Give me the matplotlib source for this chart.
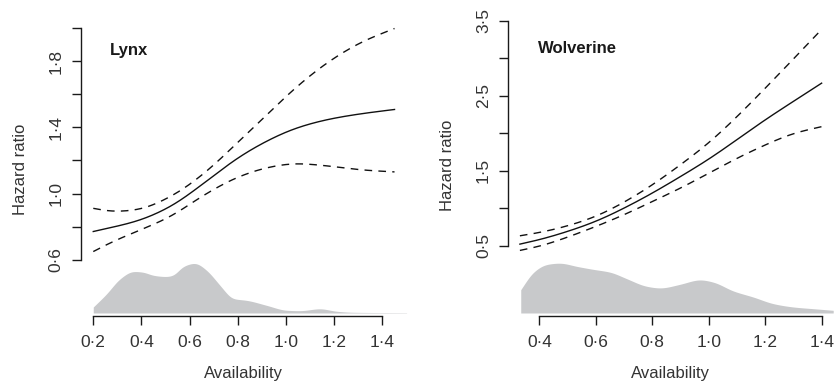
import numpy as np
import matplotlib.pyplot as plt
from matplotlib.ticker import FuncFormatter

plt.rcParams['font.family'] = ['Liberation Sans', 'DejaVu Sans']

# Lynx: smooth hazard ratio with confidence band
lynx_x = [0.2, 0.28, 0.38, 0.52, 0.66, 0.8, 0.93, 1.04, 1.18, 1.32, 1.45]
lynx_fit = [0.771, 0.797, 0.833, 0.921, 1.064, 1.216, 1.325, 1.395, 1.450, 1.484, 1.508]
lynx_upper = [0.911, 0.891, 0.901, 0.981, 1.122, 1.31, 1.49, 1.64, 1.80, 1.92, 1.997]
lynx_lower = [0.650, 0.710, 0.771, 0.861, 0.992, 1.10, 1.16, 1.182, 1.166, 1.142, 1.131]

# Lynx: availability density (relative)
lynx_dens_x = [0.2, 0.256, 0.311, 0.366, 0.407, 0.449, 0.505, 0.532, 0.573, 0.622, 0.671,
               0.726, 0.781, 0.837, 0.919, 1.002, 1.058, 1.141, 1.21, 1.279, 1.5]
lynx_dens = [6, 19.3, 34.3, 41.7, 41, 37.7, 36.5, 37.7, 46.7, 50, 42.7,
             27.7, 14.3, 12.7, 7.7, 2.7, 2.3, 4.3, 1.7, 0.7, 0.3]

# Wolverine
wolv_x = [0.331, 0.4, 0.5, 0.6, 0.7, 0.8, 0.9, 1.0, 1.1, 1.2, 1.3, 1.4]
wolv_fit = [0.522, 0.580, 0.691, 0.824, 1.001, 1.201, 1.423, 1.653, 1.915, 2.18, 2.425, 2.668]
wolv_upper = [0.633, 0.675, 0.765, 0.89, 1.08, 1.31, 1.58, 1.87, 2.22, 2.60, 2.99, 3.384]
wolv_lower = [0.438, 0.491, 0.615, 0.757, 0.913, 1.090, 1.268, 1.467, 1.667, 1.844, 2.0, 2.088]

wolv_dens_x = [0.334, 0.379, 0.426, 0.473, 0.532, 0.591, 0.65, 0.71, 0.78, 0.828, 0.898,
               0.969, 1.016, 1.087, 1.158, 1.229, 1.3, 1.371, 1.441]
wolv_dens = [23.3, 41, 48.7, 50, 46.7, 43.7, 41, 34.3, 26.7, 25, 28.7,
             33.3, 31, 22, 16, 9.3, 6, 4.3, 2.7]


def pchip(x, y, n=400):
    # shape preserving cubic through the read points (no overshoot)
    x = np.asarray(x, float)
    y = np.asarray(y, float)
    h = np.diff(x)
    d = np.diff(y) / h
    m = np.zeros_like(y)
    for i in range(1, len(x) - 1):
        if d[i - 1] * d[i] > 0:
            w1 = 2 * h[i] + h[i - 1]
            w2 = h[i] + 2 * h[i - 1]
            m[i] = (w1 + w2) / (w1 / d[i - 1] + w2 / d[i])
    m[0], m[-1] = d[0], d[-1]
    xs = np.linspace(x[0], x[-1], n)
    k = np.clip(np.searchsorted(x, xs) - 1, 0, len(x) - 2)
    t = (xs - x[k]) / h[k]
    h00 = 2 * t**3 - 3 * t**2 + 1
    h10 = t**3 - 2 * t**2 + t
    h01 = -2 * t**3 + 3 * t**2
    h11 = t**3 - t**2
    ys = h00 * y[k] + h10 * h[k] * m[k] + h01 * y[k + 1] + h11 * h[k] * m[k + 1]
    return xs, ys


def smooth(x, y, width):
    # pchip, then a light gaussian blur (width in x units) to iron out kinks
    xs, ys = pchip(x, y)
    step = xs[1] - xs[0]
    sig = width / step
    k = int(3 * sig)
    g = np.exp(-0.5 * (np.arange(-k, k + 1) / sig) ** 2)
    g /= g.sum()
    pad = np.pad(ys, k, mode='reflect', reflect_type='odd')
    return xs, np.convolve(pad, g, mode='valid')


def dot_fmt(v, pos):
    return f"{v:.1f}".replace('.', '\u00b7')


def panel(ax, name, name_y, x, fit, up, lo, dx, dens, scale, xlim, ylim, ybounds,
          ystep, ylab_step, xbounds):
    ax.set_xlim(*xlim)
    ax.set_ylim(*ylim)
    base = ylim[0]
    xs, ys = smooth(dx, dens, 0.012)
    ax.fill_between(xs, base, base + np.clip(ys, 0, None) * scale, color='#c8c9cb', lw=0)
    for yy, ls in [(up, (0, (5.5, 4.5))), (lo, (0, (5.5, 4.5))), (fit, '-')]:
        sx, sy = smooth(x, yy, 0.04)
        ax.plot(sx, sy, color='#111111', lw=1.0, linestyle=ls)

    for s in ['top', 'right']:
        ax.spines[s].set_visible(False)
    ax.spines['left'].set_bounds(*ybounds)
    ax.spines['bottom'].set_bounds(*xbounds)
    ax.spines['bottom'].set_position(('outward', 2))
    for s in ['left', 'bottom']:
        ax.spines[s].set_linewidth(1.0)
        ax.spines[s].set_color('#1a1a1a')

    ax.set_xticks(np.arange(xbounds[0], xbounds[1] + 0.01, 0.2))
    ax.xaxis.set_major_formatter(FuncFormatter(dot_fmt))
    ax.set_yticks(np.arange(ybounds[0], ybounds[1] + 0.01, ylab_step))
    ax.set_yticks(np.arange(ybounds[0], ybounds[1] + 0.01, ystep), minor=True)
    ax.yaxis.set_major_formatter(FuncFormatter(dot_fmt))
    ax.tick_params(axis='both', which='both', length=6.5, width=1.0, color='#1a1a1a',
                   labelsize=12.5, labelcolor='#333333')
    ax.tick_params(axis='x', pad=7)
    ax.tick_params(axis='y', pad=6)
    for lab in ax.get_yticklabels():
        lab.set_rotation(90)
        lab.set_va('center')
    ax.set_ylabel('Hazard ratio', fontsize=12, color='#333333', labelpad=15)
    ax.set_xlabel('Availability', fontsize=12, color='#333333', labelpad=12)
    ax.text(0.09, name_y, name, transform=ax.transAxes, fontsize=12, fontweight='bold',
            color='#1a1a1a', ha='left', va='center')


fig = plt.figure(figsize=(8.34, 3.81), dpi=100)
ax1 = fig.add_axes([0.0971, 0.1785, 0.3904, 0.7567])
ax2 = fig.add_axes([0.6095, 0.1785, 0.3892, 0.7769])

panel(ax1, 'Lynx', 0.91, lynx_x, lynx_fit, lynx_upper, lynx_lower,
      lynx_dens_x, lynx_dens, 0.2 / 33.2, (0.149, 1.5), (0.279, 2.02), (0.6, 2.0),
      0.2, 0.4, (0.2, 1.4))
panel(ax2, 'Wolverine', 0.893, wolv_x, wolv_fit, wolv_upper, wolv_lower,
      wolv_dens_x, wolv_dens, 0.5 / 37.57, (0.29, 1.44), (-0.396, 3.55), (0.5, 3.5),
      0.5, 1.0, (0.4, 1.4))

fig.savefig('out.png', dpi=100)
